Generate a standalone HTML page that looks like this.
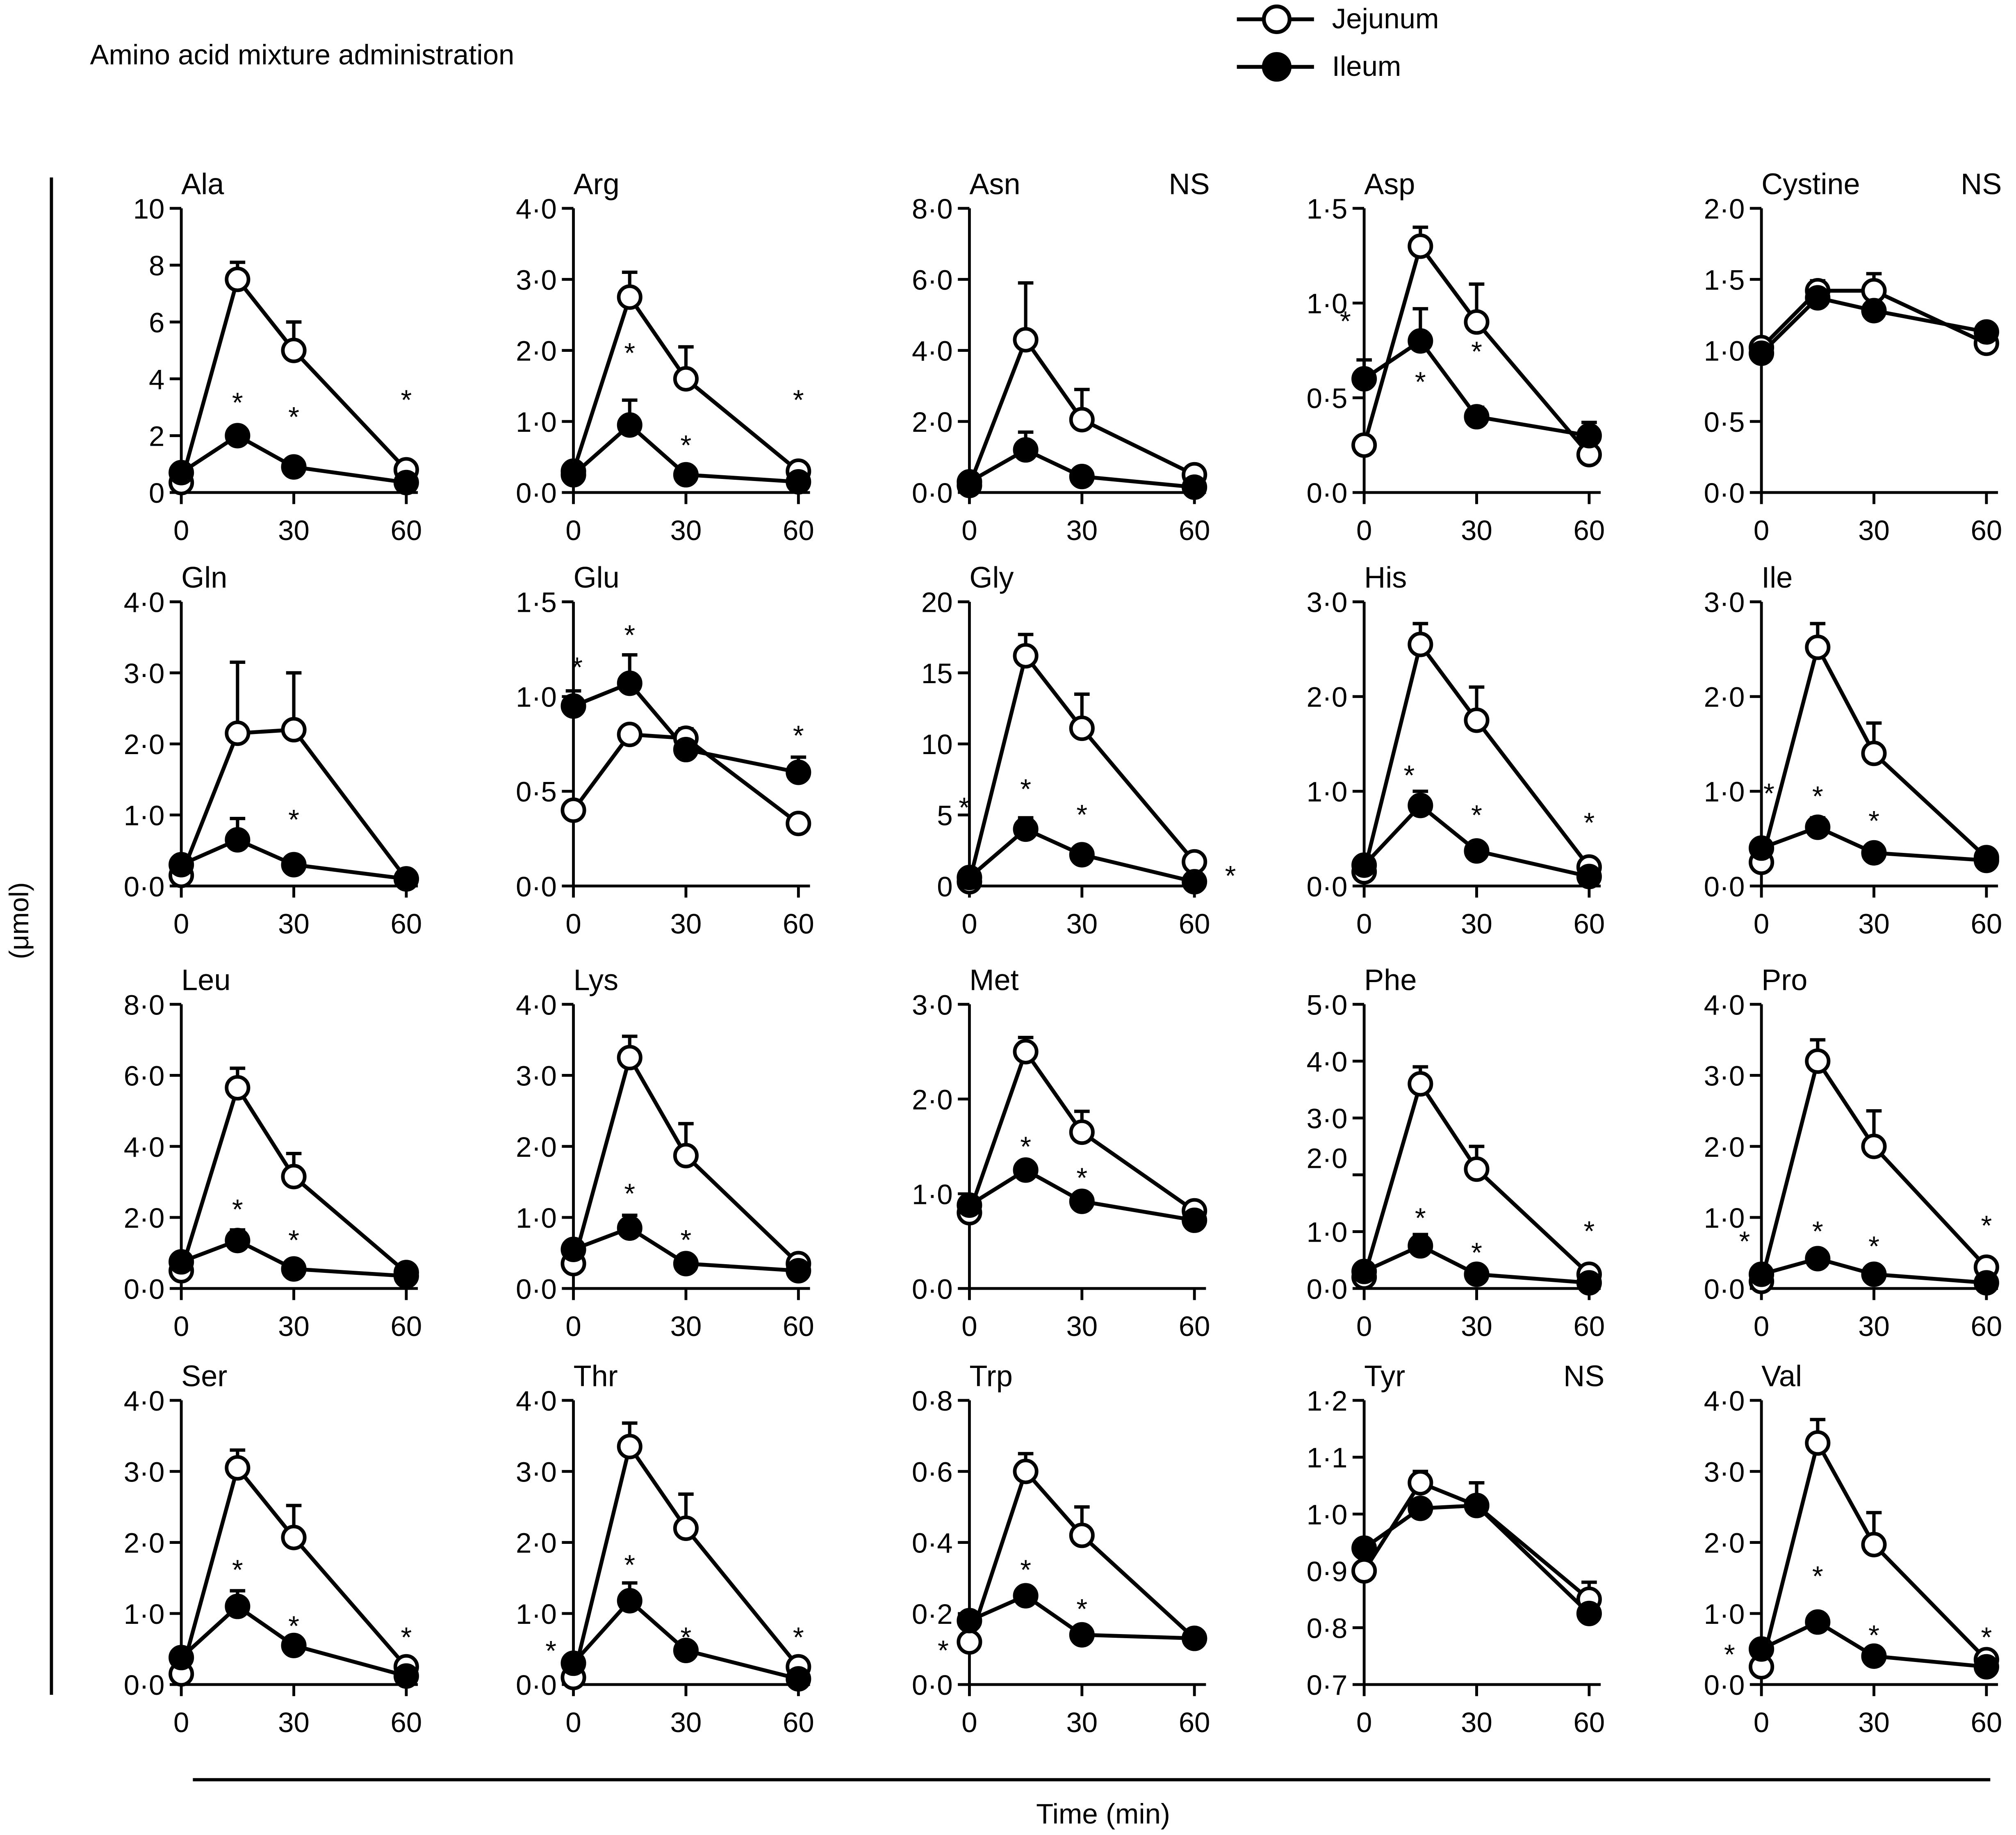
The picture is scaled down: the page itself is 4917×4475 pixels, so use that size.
<!DOCTYPE html>
<html><head><meta charset="utf-8">
<style>
html,body{margin:0;padding:0;background:#fff;}
svg{display:block;}
text{font-family:"Liberation Sans",Arial,sans-serif;fill:#000;}
</style></head>
<body>
<svg id="chart" xmlns="http://www.w3.org/2000/svg" width="4917" height="4475" viewBox="0 0 1568 1427" preserveAspectRatio="none">
<rect x="0" y="0" width="1568" height="1427" fill="#fff"/>
<text x="70" y="50" font-size="22">Amino acid mixture administration</text>
<g>
  <g>
    <line x1="962" y1="15" x2="1022" y2="15" stroke="#000" stroke-width="3"/>
    <circle cx="993" cy="15" r="10" fill="#fff" stroke="#000" stroke-width="3"/>
    <text x="1036" y="22" font-size="22">Jejunum</text>
  </g>
  <g>
    <line x1="962" y1="52" x2="1022" y2="52" stroke="#000" stroke-width="3"/>
    <circle cx="993" cy="52" r="10" fill="#000" stroke="#000" stroke-width="3"/>
    <text x="1036" y="59" font-size="22">Ileum</text>
  </g>
</g>
<line x1="40" y1="138" x2="40" y2="1318" stroke="#000" stroke-width="2.5"/>
<text transform="translate(22,716) rotate(-90)" text-anchor="middle" font-size="21">(μmol)</text>
<line x1="150" y1="1384" x2="1548" y2="1384" stroke="#000" stroke-width="2.5"/>
<text x="858" y="1418" text-anchor="middle" font-size="22">Time (min)</text>
<g id="panels"></g>
</svg>
<script>
const times = [0, 15, 30, 60];
const names = ["Ala","Arg","Asn","Asp","Cystine","Gln","Glu","Gly","His","Ile","Leu","Lys","Met","Phe","Pro","Ser","Thr","Trp","Tyr","Val"];
const yMin = [0,0,0,0,0, 0,0,0,0,0, 0,0,0,0,0, 0,0,0,0.7,0];
const yMax = [10,4,8,1.5,2, 4,1.5,20,3,3, 8,4,3,5,4, 4,4,0.8,1.2,4];
const yStep = [2,1,2,0.5,0.5, 1,0.5,5,1,1, 2,1,1,1,1, 1,1,0.2,0.1,1];
const yDecimals = [0,1,1,1,1, 1,1,0,1,1, 1,1,1,1,1, 1,1,1,1,1];
const jejunum = [
 [0.35,7.5,5.0,0.8],[0.3,2.75,1.6,0.3],[0.2,4.3,2.05,0.5],[0.25,1.3,0.9,0.2],[1.02,1.42,1.42,1.05],
 [0.15,2.15,2.2,0.1],[0.4,0.8,0.78,0.33],[0.3,16.2,11.1,1.7],[0.15,2.55,1.75,0.2],[0.25,2.52,1.4,0.3],
 [0.5,5.65,3.15,0.45],[0.35,3.25,1.87,0.35],[0.8,2.5,1.65,0.82],[0.2,3.6,2.1,0.25],[0.1,3.2,2.0,0.3],
 [0.15,3.05,2.07,0.25],[0.1,3.35,2.2,0.25],[0.12,0.6,0.42,0.13],[0.9,1.055,1.015,0.85],[0.25,3.4,1.97,0.35]];
const jejunumErr = [
 [0,0.6,1.0,0],[0,0.35,0.45,0],[0,1.6,0.85,0],[0,0.1,0.2,0],[0,0,0.12,0],
 [0,1.0,0.8,0],[0,0,0.05,0],[0,1.5,2.4,0],[0,0.22,0.35,0],[0,0.25,0.32,0],
 [0,0.55,0.65,0],[0,0.3,0.45,0],[0,0.15,0.22,0],[0,0.3,0.4,0],[0,0.3,0.5,0],
 [0,0.25,0.45,0],[0,0.33,0.48,0],[0,0.05,0.08,0],[0,0.02,0.04,0.03],[0,0.33,0.45,0]];
const ileum = [
 [0.7,2.0,0.9,0.35],[0.25,0.95,0.25,0.15],[0.3,1.2,0.45,0.15],[0.6,0.8,0.4,0.3],[0.98,1.37,1.28,1.13],
 [0.3,0.65,0.3,0.1],[0.95,1.07,0.72,0.6],[0.6,4.0,2.2,0.3],[0.22,0.85,0.37,0.1],[0.4,0.62,0.35,0.27],
 [0.75,1.35,0.55,0.35],[0.55,0.85,0.35,0.25],[0.88,1.25,0.92,0.72],[0.3,0.75,0.25,0.1],[0.2,0.42,0.2,0.08],
 [0.38,1.1,0.55,0.12],[0.3,1.18,0.48,0.08],[0.18,0.25,0.14,0.13],[0.94,1.01,1.015,0.825],[0.5,0.88,0.4,0.25]];
const ileumErr = [
 [0,0.3,0,0],[0,0.35,0,0],[0,0.5,0,0],[0.1,0.17,0.05,0.07],[0,0.12,0,0],
 [0,0.3,0,0],[0.08,0.15,0,0.08],[0,0.8,0,0],[0,0.15,0,0],[0,0.1,0,0],
 [0,0.3,0,0],[0,0.18,0,0],[0,0.07,0,0],[0,0.2,0,0],[0,0,0,0],
 [0,0.22,0,0],[0,0.25,0,0],[0,0.02,0,0],[0,0,0.04,0],[0,0.1,0,0]];
// significance stars: [time, value]
const stars = [
 [[15,3.0],[30,2.5],[60,3.1]],[[15,1.9],[30,0.6],[60,1.24]],[],[[-5,0.88],[15,0.56],[30,0.72]],[],
 [[30,0.87]],[[1,1.13],[15,1.3],[60,0.77]],[[-1.4,5.2],[15,6.5],[30,4.7],[69.6,0.4]],[[12,1.12],[30,0.7],[60,0.62]],[[2,0.93],[15,0.9],[30,0.64]],
 [[15,2.1],[30,1.23]],[[15,1.27],[30,0.62]],[[15,1.45],[30,1.12]],[[15,1.16],[30,0.55],[60,0.93]],[[-4.5,0.6],[15,0.74],[30,0.53],[60,0.82]],
 [[15,1.55],[30,0.76],[60,0.6]],[[-6,0.41],[15,1.62],[30,0.6],[60,0.6]],[[-7,0.083],[15,0.31],[30,0.2]],[],[[-8.5,0.36],[15,1.46],[30,0.63],[60,0.6]]];
const nsPanels = ["Asn","Cystine","Tyr"];

const NS = "http://www.w3.org/2000/svg";
const colX = [141,446,754,1061,1370];
const rowBottom = [383,689,1002,1310];
const H = 221, W = 175;
const root = document.getElementById('panels');
function mk(tag, attrs, parent){
  const e = document.createElementNS(NS, tag);
  for (const k in attrs) e.setAttribute(k, attrs[k]);
  parent.appendChild(e);
  return e;
}
names.forEach((nm, i) => {
  const x0 = colX[i % 5], yb = rowBottom[Math.floor(i / 5)];
  const g = mk('g', {}, root);
  
  
  const xs = t => x0 + t / 60 * W;
  const ys = v => yb - (v - yMin[i]) / (yMax[i] - yMin[i]) * H;
  const ya = mk('line', {x1:x0, y1:ys(yMax[i]), x2:x0, y2:yb, stroke:'#000','stroke-width':2.2}, g);
  
  
  const xa = mk('line', {x1:x0-9, y1:yb, x2:x0+W+9, y2:yb, stroke:'#000','stroke-width':2.2}, g);
  
  
  const nT = Math.round((yMax[i] - yMin[i]) / yStep[i]);
  for (let k = 0; k <= nT; k++) {
    const v = yMin[i] + k * yStep[i];
    const yy = ys(v);
    if (k > 0) mk('line', {x1:x0-9, y1:yy, x2:x0, y2:yy, stroke:'#000','stroke-width':2.2}, g);
    let ly = yy;
    if (nm === "Phe" && Math.abs(v - 2) < 1e-6) ly = ys(2.3);
    const t = mk('text', {x:x0-13, y:ly+8, 'text-anchor':'end','font-size':22}, g);
    t.textContent = v.toFixed(yDecimals[i]).replace('.', '·');
    
    
  }
  [0,30,60].forEach(tv => {
    mk('line', {x1:xs(tv), y1:yb, x2:xs(tv), y2:yb+9, stroke:'#000','stroke-width':2.2}, g);
    const t = mk('text', {x:xs(tv), y:yb+37, 'text-anchor':'middle','font-size':22}, g);
    t.textContent = String(tv);
    
    
  });
  const tt = mk('text', {x:x0, y:ys(yMax[i])-11, 'font-size':23}, g);
  tt.textContent = nm;
  
  
  if (nsPanels.includes(nm)) {
    const ns = mk('text', {x:x0+W-20, y:ys(yMax[i])-11, 'font-size':23}, g);
    ns.textContent = "NS";
    
    
  }
  [[jejunum, jejunumErr],[ileum, ileumErr]].forEach(([d, e]) => {
    times.forEach((tm, k) => {
      if (e[i][k] > 0) {
        const x = xs(tm), y1 = ys(d[i][k]), y2 = ys(d[i][k] + e[i][k]);
        const eb = mk('path', {d:`M${x},${y1}V${y2}M${x-6},${y2}H${x+6}`, stroke:'#000','stroke-width':2.6, fill:'none'}, g);
        
        
      }
    });
  });
  [[jejunum,'jejunum'],[ileum,'ileum']].forEach(([d, s]) => {
    const pts = times.map((tm, k) => xs(tm) + ',' + ys(d[i][k])).join(' ');
    const pl = mk('polyline', {points:pts, fill:'none', stroke:'#000','stroke-width':3}, g);
    
    
  });
  [[jejunum,'jejunum','#fff'],[ileum,'ileum','#000']].forEach(([d, s, f]) => {
    times.forEach((tm, k) => {
      const c = mk('circle', {cx:xs(tm), cy:ys(d[i][k]), r:8.5, fill:f, stroke:'#000','stroke-width':2.8}, g);
      
      
    });
  });
  stars[i].forEach(([tm, v]) => {
    const s = mk('text', {x:xs(tm), y:ys(v)+4, 'text-anchor':'middle','font-size':22}, g);
    s.textContent = '*';
    
    
  });
});
</script>
</body></html>
